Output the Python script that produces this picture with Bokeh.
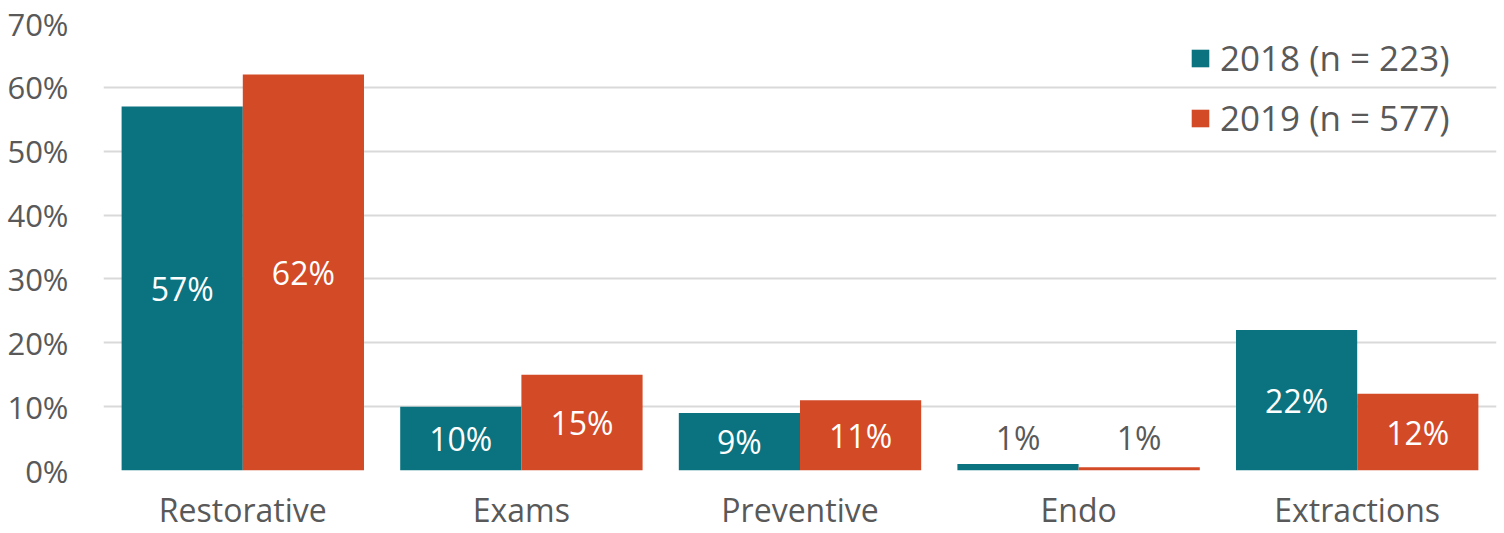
from bokeh.plotting import figure
from bokeh.models import (ColumnDataSource, FactorRange, Range1d, FixedTicker,
                          PrintfTickFormatter, Legend, LegendItem)
from bokeh.transform import dodge
from bokeh.core.properties import value
from bokeh.embed import file_html
from bokeh.resources import INLINE

categories = ["Restorative", "Exams", "Preventive", "Endo", "Extractions"]
series_names = ["2018 (n = 223)", "2019 (n = 577)"]
values_2018 = [57, 10, 9, 1.0, 22]
values_2019 = [62, 15, 11, 0.5, 12]
labels_2018 = ["57%", "10%", "9%", "1%", "22%"]
labels_2019 = ["62%", "15%", "11%", "1%", "12%"]
y_ticks = [0, 10, 20, 30, 40, 50, 60, 70]

TEAL = "#0A737F"
ORANGE = "#D34A27"
GRAY = "#595959"
FONT = "Open Sans"

p = figure(width=1504, height=533, x_range=FactorRange(*categories, range_padding=0),
           y_range=Range1d(0, 70), output_backend="svg", toolbar_location=None,
           min_border_left=103, min_border_right=8, min_border_top=23, min_border_bottom=40)
p.outline_line_color = None
p.background_fill_color = "white"
p.border_fill_color = "white"

def label_pos(vals):
    return [v / 2 if v >= 3 else 5.2 for v in vals]

def label_col(vals):
    return ["white" if v >= 3 else GRAY for v in vals]

src = ColumnDataSource(dict(
    cat=categories, v18=values_2018, v19=values_2019,
    l18=labels_2018, l19=labels_2019,
    y18=label_pos(values_2018), y19=label_pos(values_2019),
    c18=label_col(values_2018), c19=label_col(values_2019),
))

bw = 0.435
r18 = p.vbar(x=dodge("cat", -bw / 2, range=p.x_range), top="v18", width=bw, source=src,
             fill_color=TEAL, line_color=None)
r19 = p.vbar(x=dodge("cat", bw / 2, range=p.x_range), top="v19", width=bw, source=src,
             fill_color=ORANGE, line_color=None)

for off, lab, yy, cc in [(-bw / 2, "l18", "y18", "c18"), (bw / 2, "l19", "y19", "c19")]:
    p.text(x=dodge("cat", off, range=p.x_range), y=yy, text=lab, source=src,
           text_color=cc, text_font=value(FONT), text_font_size="32px",
           text_align="center", text_baseline="middle")

p.yaxis.ticker = FixedTicker(ticks=y_ticks)
p.yaxis.formatter = PrintfTickFormatter(format="%d%%")
for ax in (p.xaxis, p.yaxis):
    ax.axis_line_color = None
    ax.major_tick_line_color = None
    ax.minor_tick_line_color = None
    ax.major_tick_out = 0
    ax.major_tick_in = 0
    ax.major_label_text_font = FONT
    ax.major_label_text_color = GRAY
p.yaxis.major_label_text_font_size = "31px"
p.xaxis.major_label_text_font_size = "32px"
p.yaxis.major_label_standoff = 35
p.xaxis.major_label_standoff = 17

p.xgrid.grid_line_color = None
p.ygrid.grid_line_color = "#D9D9D9"
p.ygrid.grid_line_width = 2

legend = Legend(items=[LegendItem(label=series_names[0], renderers=[r18]),
                       LegendItem(label=series_names[1], renderers=[r19])],
                location=(1086, 329), orientation="vertical")
legend.background_fill_alpha = 0
legend.border_line_color = None
legend.padding = 0
legend.margin = 0
legend.spacing = 13
legend.glyph_width = 22
legend.glyph_height = 22
legend.label_height = 30
legend.label_standoff = 9
legend.label_text_font = FONT
legend.label_text_font_size = "35px"
legend.label_text_color = GRAY
p.add_layout(legend)

open("out.html", "w").write(file_html(p, INLINE))
